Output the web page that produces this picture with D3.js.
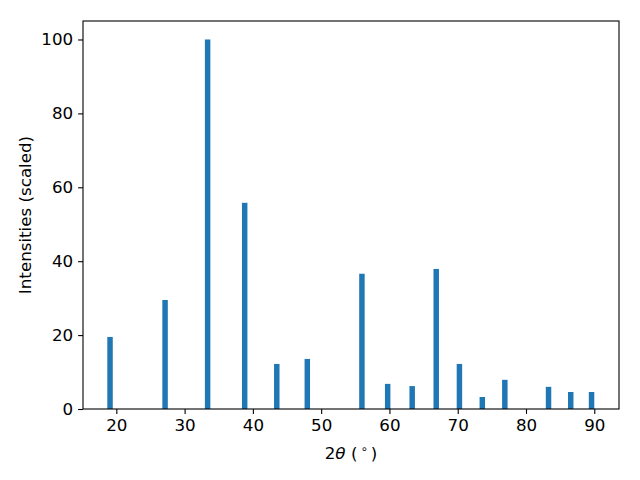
<!DOCTYPE html>
<html><head><meta charset="utf-8">
<script src="https://cdn.jsdelivr.net/npm/d3@7"></script>
<style>body{margin:0;background:#fff}svg{display:block}</style>
</head><body>
<svg id="c" width="640" height="480"></svg>
<script>
const twoTheta = [19.08, 27.14, 33.37, 38.8, 43.5, 47.97, 55.97, 59.74, 63.33, 66.85, 70.25, 73.6, 76.9, 83.3, 86.55, 89.6];
const intensities = [19.5, 29.5, 100, 55.8, 12.2, 13.55, 36.6, 6.8, 6.2, 37.9, 12.2, 3.25, 7.9, 6.0, 4.6, 4.6];
const xTicks = [20, 30, 40, 50, 60, 70, 80, 90];
const yTicks = [0, 20, 40, 60, 80, 100];
const barWidth = 0.8;

const svg = d3.select("#c");
const L = 83, R = 619, T = 21, B = 409;
const x = d3.scaleLinear().domain([15.12, 93.62]).range([L, R]);
const y = d3.scaleLinear().domain([0, 105]).range([B, T]);
const font = "'DejaVu Sans', sans-serif";
const fs = "16.7px";

svg.append("g").selectAll("rect").data(twoTheta).join("rect")
  .attr("x", d => x(d - barWidth/2))
  .attr("width", d => x(d + barWidth/2) - x(d - barWidth/2))
  .attr("y", (d,i) => y(intensities[i]))
  .attr("height", (d,i) => y(0) - y(intensities[i]))
  .attr("fill", "#1f77b4");

const xa = svg.append("g").attr("transform", `translate(0,${B})`)
  .call(d3.axisBottom(x).tickValues(xTicks).tickSize(4.9).tickPadding(4.9).tickFormat(d3.format("d")));
const ya = svg.append("g").attr("transform", `translate(${L},0)`)
  .call(d3.axisLeft(y).tickValues(yTicks).tickSize(4.9).tickPadding(4.9).tickFormat(d3.format("d")));
[xa, ya].forEach(a => {
  a.select(".domain").remove();
  a.attr("font-size", null).attr("font-family", null);
  a.selectAll("line").attr("stroke", "#000").attr("stroke-width", 1.1);
  a.selectAll("text").style("font-family", font).style("font-size", fs).attr("fill", "#000");
});

svg.append("rect").attr("x", L).attr("y", T).attr("width", R - L).attr("height", B - T)
  .attr("fill", "none").attr("stroke", "#000").attr("stroke-width", 1.1);

const xl = svg.append("text").attr("x", (L + R) / 2).attr("y", 459)
  .attr("text-anchor", "middle").style("font-family", font).style("font-size", fs);
xl.append("tspan").text("2");
xl.append("tspan").attr("font-style", "italic").text("θ");
xl.append("tspan").text(" (");
xl.append("tspan").style("font-size", "11.7px").attr("dx", 3).attr("dy", -6).text("∘");
xl.append("tspan").attr("dx", 3).attr("dy", 6).text(")");

svg.append("text").attr("transform", `translate(31,${(T + B) / 2}) rotate(-90)`)
  .attr("text-anchor", "middle").style("font-family", font).style("font-size", fs)
  .text("Intensities (scaled)");
</script>
</body></html>
